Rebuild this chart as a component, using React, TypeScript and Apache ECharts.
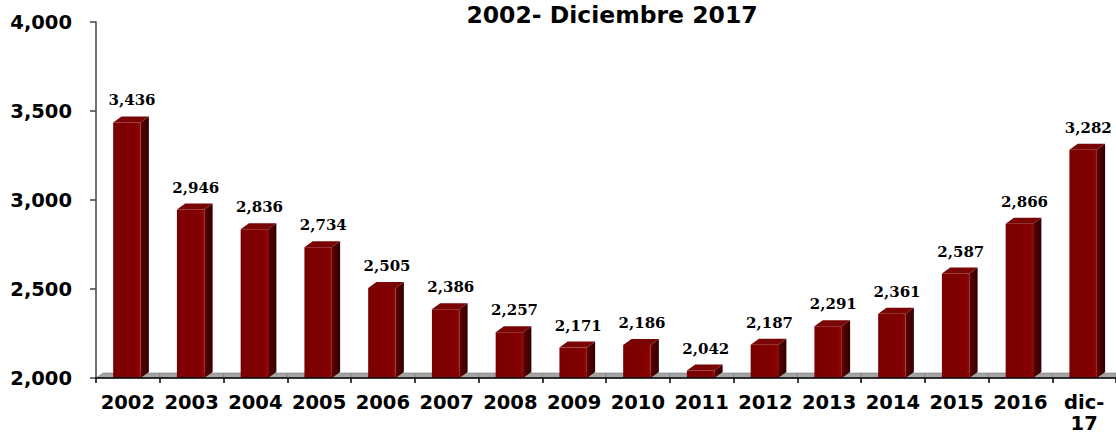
import React, { useEffect, useRef } from "react";
import * as echarts from "echarts";

const titleText = "2002- Diciembre 2017";
const categories = ["2002", "2003", "2004", "2005", "2006", "2007", "2008", "2009", "2010", "2011", "2012", "2013", "2014", "2015", "2016", "dic-17"];
const values = [3436, 2946, 2836, 2734, 2505, 2386, 2257, 2171, 2186, 2042, 2187, 2291, 2361, 2587, 2866, 3282];
const yMin = 2000;
const yMax = 4000;
const yInterval = 500;

const fmt = (n: number) => n.toString().replace(/\B(?=(\d{3})+(?!\d))/g, ",");

export default function App() {
  const ref = useRef<HTMLDivElement>(null);
  useEffect(() => {
    if (!ref.current) return;
    const chart = echarts.init(ref.current, null, { renderer: "svg" });
    const data = values.map((v, i) => [i, v]);
    chart.setOption({
      animation: false,
      backgroundColor: "#ffffff",
      graphic: [
        {
          type: "text",
          x: 612,
          y: 3,
          style: {
            text: titleText,
            font: "bold 23.5px 'DejaVu Sans'",
            fill: "#000",
            align: "center",
            verticalAlign: "top",
          },
        },
      ],
      grid: { left: 96, top: 22, width: 1027, height: 356, containLabel: false },
      xAxis: {
        type: "category",
        data: categories,
        boundaryGap: true,
        axisLine: { show: true, lineStyle: { color: "#000", width: 1.5 } },
        axisTick: { show: true, length: 5, lineStyle: { color: "#000", width: 1.5 } },
        axisLabel: {
          interval: 0,
          margin: 14,
          color: "#000",
          fontFamily: "DejaVu Sans",
          fontWeight: "bold",
          fontSize: 19.5,
          lineHeight: 21,
          formatter: (v: string) => v.replace("-", "-\n"),
        },
        z: 3,
      },
      yAxis: {
        type: "value",
        min: yMin,
        max: yMax,
        interval: yInterval,
        splitLine: { show: false },
        axisLine: { show: true, lineStyle: { color: "#444", width: 1.5 } },
        axisTick: { show: true, length: 6, lineStyle: { color: "#444", width: 1.5 } },
        axisLabel: {
          margin: 24,
          color: "#000",
          fontFamily: "DejaVu Sans",
          fontWeight: "bold",
          fontSize: 19.5,
          formatter: (v: number) => fmt(v),
        },
      },
      series: [
        {
          type: "custom",
          name: "floor",
          z: 1,
          data,
          encode: { x: 0, y: 1 },
          renderItem: (params: any, api: any) => {
            const idx = api.value(0);
            const c = api.coord([idx, yMin]);
            const bw = api.size([1, 0])[0];
            const x0 = c[0] - bw / 2;
            const x1 = c[0] + bw / 2;
            const yb = c[1];
            const d = 5;
            const slant = idx === 0 ? 7 : 0;
            return {
              type: "polygon",
              shape: {
                points: [
                  [x0, yb],
                  [x1, yb],
                  [x1, yb - d],
                  [x0 + slant, yb - d],
                ],
              },
              style: { fill: "#a4a4a4", stroke: "#7a7a7a", lineWidth: 0.6 },
            };
          },
        },
        {
          type: "custom",
          name: "bars",
          z: 2,
          data,
          encode: { x: 0, y: 1 },
          renderItem: (params: any, api: any) => {
            const idx = api.value(0);
            const v = api.value(1);
            const t = api.coord([idx, v]);
            const b = api.coord([idx, yMin]);
            const bw = api.size([1, 0])[0];
            const fw = bw * 0.43;
            const dx = bw * 0.13;
            const dy = 6;
            const xl = t[0] - fw / 2 - 1;
            const xr = xl + fw;
            const yt = t[1];
            const yb = b[1];
            return {
              type: "group",
              children: [
                {
                  type: "polygon",
                  shape: {
                    points: [
                      [xr, yt],
                      [xr + dx, yt - dy],
                      [xr + dx, yb - dy],
                      [xr, yb],
                    ],
                  },
                  style: {
                    fill: new echarts.graphic.LinearGradient(0, 0, 1, 0, [
                      { offset: 0, color: "#5e0000" },
                      { offset: 1, color: "#300000" },
                    ]),
                  },
                },
                {
                  type: "polygon",
                  shape: {
                    points: [
                      [xl, yt],
                      [xl + dx, yt - dy],
                      [xr + dx, yt - dy],
                      [xr, yt],
                    ],
                  },
                  style: { fill: "#7a0505" },
                },
                {
                  type: "rect",
                  shape: { x: xl, y: yt, width: fw, height: yb - yt },
                  style: {
                    fill: new echarts.graphic.LinearGradient(0, 0, 1, 0, [
                      { offset: 0, color: "#7a0000" },
                      { offset: 0.85, color: "#820000" },
                      { offset: 1, color: "#8e0a0a" },
                    ]),
                  },
                },
                {
                  type: "text",
                  x: t[0] + dx / 2,
                  y: yt - 22,
                  style: {
                    text: fmt(v),
                    font: "bold 15px 'DejaVu Serif'",
                    fill: "#000",
                    align: "center",
                    verticalAlign: "middle",
                  },
                },
              ],
            };
          },
        },
      ],
    });
    return () => chart.dispose();
  }, []);
  return (
    <div
      ref={ref}
      style={{ position: "fixed", left: 0, top: 0, width: 1116, height: 435 }}
    />
  );
}
